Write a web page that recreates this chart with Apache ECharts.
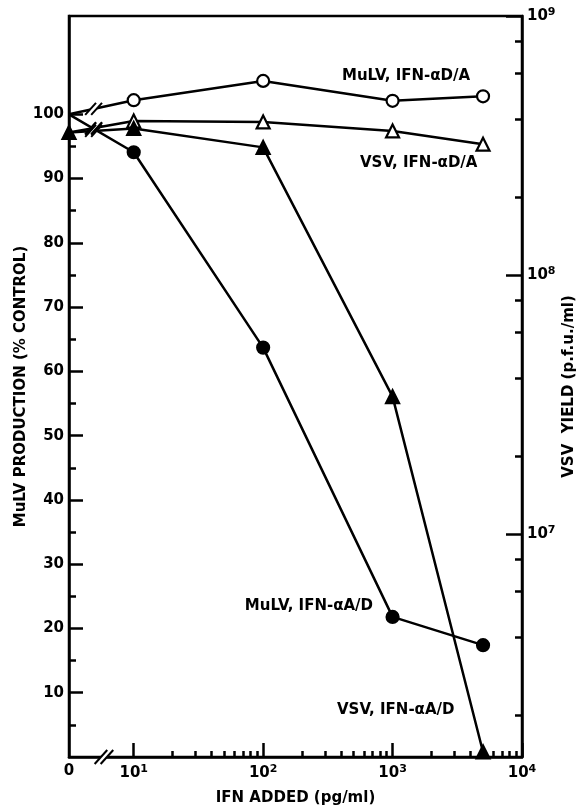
<!DOCTYPE html>
<html>
<head>
<meta charset="utf-8">
<script src="https://cdn.jsdelivr.net/npm/echarts@6/dist/echarts.min.js"></script>
<style>
html, body { margin: 0; padding: 0; background: #fff; }
#chart { width: 578px; height: 806px; }
</style>
</head>
<body>
<div id="chart"></div>
<script>
// IFN added (pg/ml); 0 sits on the broken start of the log axis
var doses = [0, 10, 100, 1000, 5000];

// MuLV production, % of control (left axis)
var mulvDA = [100, 102.2, 105.2, 102.1, 102.8];
var mulvAD = [100, 94.1, 63.7, 21.8, 17.4];

// VSV yield, p.f.u./ml (right axis, log)
var vsvDA = [3.55e8, 3.93e8, 3.9e8, 3.6e8, 3.2e8];
var vsvAD = [3.55e8, 3.68e8, 3.11e8, 3.39e7, 1.44e6];

// tick values
var leftTicks = [10, 20, 30, 40, 50, 60, 70, 80, 90, 100];
var leftMinorTicks = [5, 15, 25, 35, 45, 55, 65, 75, 85, 95];
var xDecades = [1, 2, 3, 4];          // log10 of 10, 100, 1000, 10000
var xMinorSteps = [2, 3, 4, 5, 6, 7, 8, 9];
var rightDecades = [7, 8, 9];         // log10 of p.f.u./ml
var rightMinorSteps = [2, 4, 6, 8];

var zeroPos = 0.5;                    // where dose 0 is drawn
var FONT = 'DejaVu Sans';

function xPos(d) { return d === 0 ? zeroPos : Math.log10(d); }

var xMinorTicks = [];
[1, 2, 3].forEach(function(e) {
    xMinorSteps.forEach(function(k) { xMinorTicks.push(e + Math.log10(k)); });
});
var rightMinorTicks = [];
[6, 7, 8].forEach(function(e) {
    rightMinorSteps.forEach(function(k) { rightMinorTicks.push(e + Math.log10(k)); });
});

function pairs(vals, toLog, noFirstSymbol) {
    return vals.map(function(v, i) {
        var item = { value: [xPos(doses[i]), toLog ? Math.log10(v) : v] };
        if (i === 0 && noFirstSymbol) item.symbol = 'none';
        return item;
    });
}

var supRich = {
    b: { fontSize: 15, fontWeight: 'bold', fontFamily: FONT, color: '#000' },
    s: { fontSize: 11, fontWeight: 'bold', fontFamily: FONT, color: '#000', verticalAlign: 'top', padding: [0, 0, 7, 0] }
};

var X_MIN = zeroPos, X_MAX = 4;
var L_MIN = 0, L_MAX = 115.3;
var R_MIN = 6.139, R_MAX = 9;

var el = document.getElementById('chart');
var chart = echarts.init(el);

function lineSeries(name, data, yIdx, symbol, filled) {
    return {
        name: name,
        type: 'line',
        xAxisIndex: 0,
        yAxisIndex: yIdx,
        data: data,
        symbol: symbol,
        symbolSize: symbol === 'triangle' ? 13 : 12,
        showAllSymbol: true,
        animation: false,
        lineStyle: { color: '#000', width: 2.5 },
        itemStyle: {
            color: filled ? '#000' : '#fff',
            borderColor: '#000',
            borderWidth: 2.2
        },
        emphasis: { disabled: true }
    };
}

var tickStyle = { color: '#000', width: 2.5 };

chart.setOption({
    animation: false,
    textStyle: { fontFamily: FONT, color: '#000' },
    grid: {
        left: 69, right: 56, top: 16, bottom: 49,
        outerBoundsMode: 'none', containLabel: false,
        show: true, borderColor: '#000', borderWidth: 2.5,
        backgroundColor: 'transparent'
    },
    xAxis: [{
        type: 'value', min: X_MIN, max: X_MAX, position: 'bottom',
        axisLine: { show: true, lineStyle: tickStyle },
        axisTick: { show: true, inside: true, length: 14, customValues: xDecades, lineStyle: tickStyle },
        axisLabel: {
            customValues: [zeroPos].concat(xDecades), margin: 7,
            formatter: function(v) {
                return v === zeroPos ? '{b|0}' : '{b|10}{s|' + Math.round(v) + '}';
            },
            rich: supRich
        },
        splitLine: { show: false },
        name: 'IFN ADDED (pg/ml)', nameLocation: 'middle', nameGap: 34, nameMoveOverlap: false,
        nameTextStyle: { fontSize: 15, fontWeight: 'bold', fontFamily: FONT, color: '#000', verticalAlign: 'top' }
    }, {
        type: 'value', min: X_MIN, max: X_MAX, position: 'bottom',
        axisLine: { show: false },
        axisTick: { show: true, inside: true, length: 6, customValues: xMinorTicks, lineStyle: tickStyle },
        axisLabel: { show: false },
        splitLine: { show: false }
    }],
    yAxis: [{
        type: 'value', min: L_MIN, max: L_MAX, position: 'left',
        axisLine: { show: true, lineStyle: tickStyle },
        axisTick: { show: true, inside: true, length: 14, customValues: leftTicks, lineStyle: tickStyle },
        axisLabel: { customValues: leftTicks, margin: 5, fontSize: 15, fontWeight: 'bold', fontFamily: FONT, color: '#000' },
        splitLine: { show: false },
        name: 'MuLV PRODUCTION (% CONTROL)', nameLocation: 'middle', nameRotate: 90, nameGap: 40,
        nameMoveOverlap: false,
        nameTextStyle: { fontSize: 15, fontWeight: 'bold', fontFamily: FONT, color: '#000' }
    }, {
        type: 'value', min: L_MIN, max: L_MAX, position: 'left',
        axisLine: { show: false },
        axisTick: { show: true, inside: true, length: 7, customValues: leftMinorTicks, lineStyle: tickStyle },
        axisLabel: { show: false },
        splitLine: { show: false }
    }, {
        type: 'value', min: R_MIN, max: R_MAX, position: 'right',
        axisLine: { show: true, lineStyle: tickStyle },
        axisTick: { show: true, inside: true, length: 16, customValues: rightDecades, lineStyle: tickStyle },
        axisLabel: {
            customValues: rightDecades, margin: 5,
            formatter: function(v) { return '{b|10}{s|' + Math.round(v) + '}'; },
            rich: supRich
        },
        splitLine: { show: false },
        name: 'VSV  YIELD (p.f.u./ml)', nameLocation: 'middle', nameRotate: 90, nameGap: 40,
        nameMoveOverlap: false,
        nameTextStyle: { fontSize: 15, fontWeight: 'bold', fontFamily: FONT, color: '#000' }
    }, {
        type: 'value', min: R_MIN, max: R_MAX, position: 'right',
        axisLine: { show: false },
        axisTick: { show: true, inside: true, length: 7, customValues: rightMinorTicks, lineStyle: tickStyle },
        axisLabel: { show: false },
        splitLine: { show: false }
    }],
    series: [
        lineSeries('MuLV, IFN-αD/A', pairs(mulvDA, false, true), 0, 'circle', false),
        lineSeries('MuLV, IFN-αA/D', pairs(mulvAD, false, true), 0, 'circle', true),
        lineSeries('VSV, IFN-αD/A', pairs(vsvDA, true, true), 2, 'triangle', false),
        lineSeries('VSV, IFN-αA/D', pairs(vsvAD, true, false), 2, 'triangle', true)
    ]
});

// series labels written on the plot
var notes = [
    { text: 'MuLV, IFN-αD/A', x: 342, y: 76, align: 'left' },
    { text: 'VSV, IFN-αD/A', x: 360, y: 163, align: 'left' },
    { text: 'MuLV, IFN-αA/D', x: 373, y: 606, align: 'right' },
    { text: 'VSV, IFN-αA/D', x: 337, y: 710, align: 'left' }
];

var graphics = notes.map(function(n) {
    return {
        type: 'text', x: n.x, y: n.y, silent: true, z: 10,
        style: { text: n.text, fontSize: 15, fontWeight: 'bold', fontFamily: FONT, fill: '#000',
            align: n.align, verticalAlign: 'middle' }
    };
});

// "//" break marks
function breakMark(cx, cy, h) {
    var dx = h * 0.45;
    var gap = 3;
    return [{
        type: 'polygon', silent: true, z: 20,
        shape: { points: [[cx - gap - dx, cy + h / 2], [cx - gap + dx, cy - h / 2],
                          [cx + gap + dx, cy - h / 2], [cx + gap - dx, cy + h / 2]] },
        style: { fill: '#fff' }
    }, {
        type: 'line', silent: true, z: 21,
        shape: { x1: cx - gap - dx, y1: cy + h / 2, x2: cx - gap + dx, y2: cy - h / 2 },
        style: { stroke: '#000', lineWidth: 2 }
    }, {
        type: 'line', silent: true, z: 21,
        shape: { x1: cx + gap - dx, y1: cy + h / 2, x2: cx + gap + dx, y2: cy - h / 2 },
        style: { stroke: '#000', lineWidth: 2 }
    }];
}

var axisBreak = chart.convertToPixel({ xAxisIndex: 0, yAxisIndex: 0 }, [0.77, 0]);
graphics = graphics.concat(breakMark(axisBreak[0], axisBreak[1], 14));

var lineBreakX = 0.69;
var f = (lineBreakX - zeroPos) / (1 - zeroPos);
[[mulvDA, 0, false], [mulvAD, 0, false], [vsvDA, 2, true], [vsvAD, 2, true]].forEach(function(s) {
    var vals = s[0], yi = s[1], lg = s[2];
    var v0 = lg ? Math.log10(vals[0]) : vals[0];
    var v1 = lg ? Math.log10(vals[1]) : vals[1];
    var p = chart.convertToPixel({ xAxisIndex: 0, yAxisIndex: yi }, [lineBreakX, v0 + (v1 - v0) * f]);
    graphics = graphics.concat(breakMark(p[0], p[1], 12));
});

chart.setOption({ graphic: graphics });
</script>
</body>
</html>
